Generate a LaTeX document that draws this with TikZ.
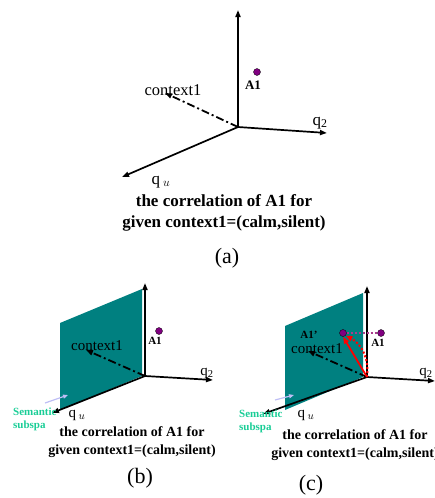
\documentclass[tikz,border=0pt]{standalone}
\usepackage{fontspec}
\setmainfont{Liberation Serif}
\usetikzlibrary{arrows.meta}
\definecolor{plane}{RGB}{0,128,128}
\definecolor{dotc}{RGB}{128,0,128}
\definecolor{linkc}{RGB}{170,60,140}
\definecolor{semc}{RGB}{25,205,150}
\definecolor{hintc}{RGB}{190,190,245}

\begin{document}
\begin{tikzpicture}[x=1pt,y=-1pt,>={Triangle[length=7pt,width=5pt]}]
  \useasboundingbox (0,0) rectangle (435,498);
  \tikzset{
    axis/.style={->,line width=1.7pt},
    ctxline/.style={->,line width=1.8pt,dash pattern=on 8pt off 3pt on 2pt off 3pt},
    pt/.style={circle,fill=dotc,draw=black,line width=.3pt,inner sep=0pt,minimum size=7pt},
    captext/.style={font=\bfseries,align=center,inner sep=0pt}
  }
  % (a)
  \begin{scope}[shift={(238,127)}]
    \coordinate (o) at (0,0);
    \coordinate (top) at (0,-117);
    \coordinate (e2) at (89,6);
    \coordinate (eu) at (-116,50);
    \coordinate (ec) at (-73,-34);
    \draw[axis] (o)--(top);
    \draw[axis] (o)--(e2);
    \draw[axis] (o)--(eu);
    \draw[ctxline] (o)--(ec);
    \node[pt] (a1) at (19,-55){};
    \node[font=\bfseries\fontsize{13}{13}\selectfont] (a1l) at (15,-42){A1};
    \node[font=\fontsize{16.5}{16.5}\selectfont] (ctx) at (-65,-37){context1};
    \node[font=\fontsize{17}{17}\selectfont] (q2) at (82,-4){q\textsubscript{2}};
    \node[font=\fontsize{17}{17}\selectfont] (qu) at (-77,55){q\,$_u$};
    \node[captext,font=\bfseries\fontsize{17}{21}\selectfont] (capa) at (-14,86)
      {the correlation of A1 for\\given context1=(calm,silent)};
    \node[font=\fontsize{22}{22}\selectfont] (la) at (-11,131){(a)};
  \end{scope}
  % (b)
  \begin{scope}[shift={(145,376)}]
    \coordinate (o) at (0,0);
    \fill[plane] (-85,-53)--(-3,-87)--(-3,0)--(-85,34)--cycle;
    \draw[white,line width=1pt] (-2,-87)--(-2,0);
    \coordinate (top) at (0,-93);
    \coordinate (e2) at (68,4);
    \coordinate (eu) at (-93,37);
    \coordinate (ec) at (-59,-26);
    \draw[axis] (o)--(top);
    \draw[axis] (o)--(e2);
    \draw[axis] (o)--(eu);
    \draw[ctxline] (o)--(ec);
    \node[pt] (a1) at (14,-45){};
    \node[font=\bfseries\fontsize{11}{11}\selectfont] (a1l) at (10,-35){A1};
    \node[font=\fontsize{15}{15}\selectfont] (ctx) at (-48,-30){context1};
    \node[font=\fontsize{15}{15}\selectfont] (q2) at (62,-3){q\textsubscript{2}};
    \node[font=\fontsize{15}{15}\selectfont] (qu) at (-68,39){q\,$_u$};
    \node[anchor=west,align=left,text=semc,font=\bfseries\fontsize{11}{13}\selectfont,inner sep=0pt] (sem) at (-132,43){Semantic\\subspa};
    \coordinate (hs) at (-100,27);
    \coordinate (he) at (-77,19);
    \draw[->,hintc,line width=1.2pt,>={Triangle[length=5pt,width=4pt]}] (hs)--(he);
    \node[captext,font=\bfseries\fontsize{14}{17.5}\selectfont] (capb) at (-13,66)
      {the correlation of A1 for\\given context1=(calm,silent)};
    \node[font=\fontsize{22}{22}\selectfont] (lb) at (-5,102){(b)};
  \end{scope}
  % (c)
  \begin{scope}[shift={(367,377)}]
    \coordinate (o) at (0,0);
    \fill[plane] (-82,-51)--(-4,-84)--(-4,0)--(-82,33)--cycle;
    \draw[white,line width=1pt] (-3,-84)--(-3,0);
    \coordinate (top) at (0,-91);
    \coordinate (e2) at (68,4);
    \coordinate (eu) at (-104,37);
    \coordinate (ec) at (-59,-26);
    \draw[axis] (o)--(top);
    \draw[axis] (o)--(e2);
    \draw[axis] (o)--(eu);
    \draw[ctxline] (o)--(ec);
    \node[pt] (a1p) at (-24,-44){};
    \node[pt] (a1) at (14,-44){};
    \draw[linkc,line width=2pt,dotted] (a1p)--(a1);
    \draw[->,red,line width=1.8pt] (o)--(a1p.south);
    \draw[->,red,line width=2pt,dotted] (o) to[bend right=35] (a1p.south east);
    \node[font=\bfseries\fontsize{11}{11}\selectfont] (a1pl) at (-58,-42){A1'};
    \node[font=\bfseries\fontsize{11}{11}\selectfont] (a1l) at (11,-34){A1};
    \node[font=\fontsize{15}{15}\selectfont] (ctx) at (-50,-28){context1};
    \node[font=\fontsize{15}{15}\selectfont] (q2) at (59,-4){q\textsubscript{2}};
    \node[font=\fontsize{15}{15}\selectfont] (qu) at (-61,38){q\,$_u$};
    \node[anchor=west,align=left,text=semc,font=\bfseries\fontsize{11}{13}\selectfont,inner sep=0pt] (sem) at (-128,44){Semantic\\subspa};
    \coordinate (hs) at (-92,23);
    \coordinate (he) at (-73,18);
    \draw[->,hintc,line width=1.2pt,>={Triangle[length=5pt,width=4pt]}] (hs)--(he);
    \node[captext,font=\bfseries\fontsize{14}{17.5}\selectfont] (capc) at (-12,68)
      {the correlation of A1 for\\given context1=(calm,silent)};
    \node[font=\fontsize{22}{22}\selectfont] (lc) at (-56,108){(c)};
  \end{scope}
\end{tikzpicture}
\end{document}
